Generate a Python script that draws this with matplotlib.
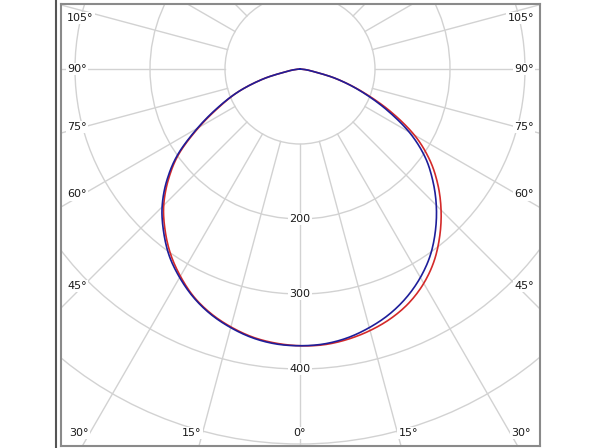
import numpy as np
import matplotlib
matplotlib.use('Agg')
import matplotlib.pyplot as plt
from matplotlib.patches import Circle
from matplotlib.lines import Line2D

# ---- data (luminous intensity, cd) ----
gamma = [0, 5, 10, 15, 20, 25, 30, 35, 40, 45, 50, 55, 60, 65, 70, 75, 80, 85, 90]
c0_right_red = [370, 369, 366, 361, 354, 344, 330, 312, 290, 266, 240, 211, 176, 132, 88, 50, 16, 3, 0]
c180_left_red = [369, 367, 363, 356, 347, 335, 319, 301, 280, 257, 229, 197, 156, 118, 86, 50, 16, 3, 0]
c90_right_blue = [369, 368, 364, 357, 348, 336, 321, 303, 281, 257, 231, 203, 168, 126, 86, 50, 16, 3, 0]
c270_left_blue = [369, 368, 364, 357, 348, 336, 321, 304, 283, 260, 232, 199, 158, 120, 86, 50, 16, 3, 0]
rings = [100, 200, 300, 400, 500, 600]
ring_labels = [200, 300, 400]
side_angles = [45, 60, 75, 90, 105]
bottom_angles = [0, 15, 30]

# ---- layout (pixels) ----
W, H = 600, 448
S = 0.75            # px per cd
CX, CY = 300, 69    # centre in px (from top)
L, R, T, B = 61, 540, 4, 446

fig = plt.figure(figsize=(W / 100, H / 100), dpi=100)
ax = fig.add_axes([L / W, 1 - B / H, (R - L) / W, (B - T) / H])
ax.set_xlim((L - CX) / S, (R - CX) / S)
ax.set_ylim(-(B - CY) / S, (CY - T) / S)
ax.set_xticks([])
ax.set_yticks([])
for sp in ax.spines.values():
    sp.set_color('#8a8a8a')
    sp.set_linewidth(1.5)

def px2d(px, py):
    return (px - CX) / S, (CY - py) / S

grid_c = '#d2d2d2'
for r in rings:
    ax.add_patch(Circle((0, 0), r, fill=False, ec=grid_c, lw=1.0, zorder=1))
for a in range(0, 360, 15):
    t = np.radians(a)
    ax.plot([100 * np.sin(t), 1200 * np.sin(t)], [-100 * np.cos(t), -1200 * np.cos(t)],
            color=grid_c, lw=1.0, zorder=1)

fs = 8
tc = '#1a1a1a'
bb = dict(facecolor='white', edgecolor='none', pad=1.0)
for v in ring_labels:
    ax.text(0, -v, str(v), ha='center', va='center', fontsize=fs, color=tc, bbox=bb, zorder=3)

for a in side_angles:
    t = np.radians(a)
    py = CY + 217 * np.cos(t) / np.sin(t)
    py = max(py, 18)
    x, y = px2d(534, py)
    ax.text(x, y, f'{a}°', ha='right', va='center', fontsize=fs, color=tc, bbox=bb, zorder=3)
    x, y = px2d(67, py)
    ax.text(x, y, f'{a}°', ha='left', va='center', fontsize=fs, color=tc, bbox=bb, zorder=3)

for a in bottom_angles:
    t = np.radians(a)
    off = 364 * np.tan(t) + (11 if a > 0 else 0)
    for sgn in ([1, -1] if a > 0 else [1]):
        x, y = px2d(CX + sgn * off, 433)
        ax.text(x, y, f'{a}°', ha='center', va='center', fontsize=fs, color=tc, bbox=bb, zorder=3)

def catmull_rom(px, py, n=12):
    P = np.vstack([np.asarray(px, float), np.asarray(py, float)]).T
    P = np.vstack([2 * P[0] - P[1], P, 2 * P[-1] - P[-2]])
    out = []
    t = np.linspace(0, 1, n, endpoint=False)[:, None]
    for i in range(1, len(P) - 2):
        p0, p1, p2, p3 = P[i - 1], P[i], P[i + 1], P[i + 2]
        seg = 0.5 * ((2 * p1) + (-p0 + p2) * t + (2 * p0 - 5 * p1 + 4 * p2 - p3) * t ** 2
                     + (-p0 + 3 * p1 - 3 * p2 + p3) * t ** 3)
        out.append(seg)
    out.append(P[-2][None, :])
    out = np.vstack(out)
    return out[:, 0], out[:, 1]

def curve(right, left):
    g = np.array(gamma, dtype=float)
    phi = np.radians(np.concatenate([-g[::-1], g[1:]]))
    r = np.concatenate([np.array(left, float)[::-1], np.array(right, float)[1:]])
    return catmull_rom(r * np.sin(phi), -r * np.cos(phi))

xr, yr = curve(c0_right_red, c180_left_red)
xb, yb = curve(c90_right_blue, c270_left_blue)
ax.plot(xr, yr, color='#d42a2a', lw=1.2, zorder=4)
ax.plot(xb, yb, color='#1e1e9a', lw=1.2, zorder=5)

fig.add_artist(Line2D([56 / W, 56 / W], [0, 1], color='#555555', lw=1.5))

fig.savefig('out.png', dpi=100)
